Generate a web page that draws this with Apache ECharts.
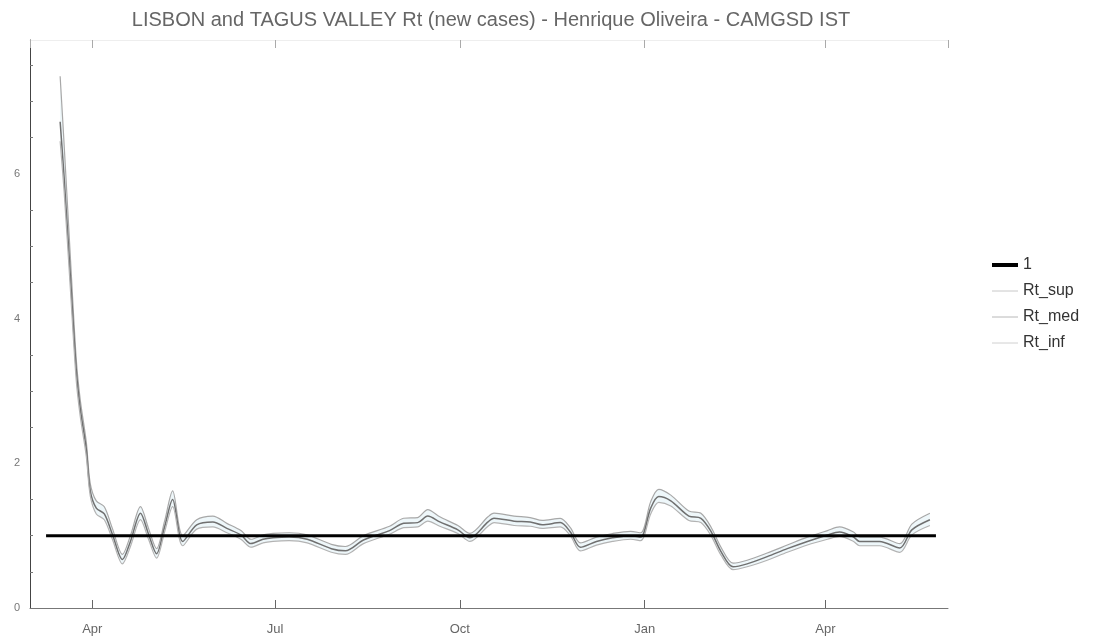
<!DOCTYPE html>
<html>
<head>
<meta charset="utf-8">
<script src="https://cdn.jsdelivr.net/npm/echarts@6/dist/echarts.min.js"></script>
<style>
  html, body { margin: 0; padding: 0; background: #fff; }
  #chart { width: 1100px; height: 639px; }
</style>
</head>
<body>
<div id="chart"></div>
<script>
// Daily-estimate dates (sampled) and Rt bounds / median for Lisbon and Tagus Valley
const dates = [
  '2020-03-16','2020-03-18','2020-03-21','2020-03-24','2020-03-26','2020-03-29','2020-03-31',
  '2020-04-03','2020-04-07','2020-04-11','2020-04-16','2020-04-20','2020-04-25','2020-04-29',
  '2020-05-03','2020-05-07','2020-05-11','2020-05-16','2020-05-23','2020-05-31','2020-06-07',
  '2020-06-14','2020-06-19','2020-06-25','2020-06-30','2020-07-08','2020-07-17','2020-07-29',
  '2020-08-05','2020-08-14','2020-08-27','2020-09-03','2020-09-10','2020-09-15','2020-09-21',
  '2020-09-30','2020-10-06','2020-10-15','2020-10-18','2020-10-28','2020-11-05','2020-11-11',
  '2020-11-20','2020-11-25','2020-11-30','2020-12-08','2020-12-16','2020-12-25','2020-12-30',
  '2021-01-04','2021-01-08','2021-01-14','2021-01-23','2021-01-29','2021-02-03','2021-02-08',
  '2021-02-14','2021-02-21','2021-03-03','2021-03-13','2021-03-23','2021-04-02','2021-04-08',
  '2021-04-15','2021-04-18','2021-04-28','2021-05-08','2021-05-14','2021-05-23'
];
const rtMed = [
  6.72, 5.95, 4.63, 3.30, 2.76, 2.20, 1.62,
  1.38, 1.30, 1.02, 0.67, 0.92, 1.31, 1.02,
  0.75, 1.12, 1.50, 0.92, 1.15, 1.19, 1.10,
  1.01, 0.89, 0.95, 0.97, 0.98, 0.95, 0.82,
  0.79, 0.94, 1.07, 1.17, 1.18, 1.27, 1.19,
  1.08, 0.97, 1.19, 1.24, 1.20, 1.19, 1.15,
  1.18, 1.05, 0.84, 0.92, 0.97, 1.00, 0.98,
  1.38, 1.54, 1.48, 1.27, 1.24, 1.06, 0.78,
  0.57, 0.61, 0.71, 0.82, 0.92, 1.01, 1.05,
  0.98, 0.92, 0.92, 0.83, 1.08, 1.22
];
const rtSup = [
  7.35, 6.40, 4.90, 3.45, 2.88, 2.30, 1.72,
  1.48, 1.40, 1.10, 0.74, 1.00, 1.40, 1.10,
  0.82, 1.20, 1.62, 1.00, 1.22, 1.27, 1.17,
  1.07, 0.95, 1.01, 1.03, 1.04, 1.01, 0.88,
  0.85, 1.00, 1.13, 1.24, 1.25, 1.36, 1.26,
  1.14, 1.03, 1.26, 1.31, 1.27, 1.25, 1.21,
  1.24, 1.11, 0.90, 0.98, 1.03, 1.06, 1.04,
  1.47, 1.64, 1.56, 1.34, 1.31, 1.12, 0.84,
  0.62, 0.66, 0.76, 0.87, 0.98, 1.07, 1.12,
  1.05, 0.98, 0.98, 0.89, 1.16, 1.31
];
const rtInf = [
  6.45, 5.75, 4.45, 3.15, 2.65, 2.10, 1.55,
  1.30, 1.22, 0.95, 0.61, 0.85, 1.22, 0.95,
  0.69, 1.05, 1.40, 0.86, 1.09, 1.12, 1.04,
  0.95, 0.84, 0.90, 0.92, 0.93, 0.90, 0.77,
  0.74, 0.89, 1.02, 1.11, 1.12, 1.20, 1.13,
  1.03, 0.92, 1.13, 1.18, 1.14, 1.13, 1.10,
  1.12, 1.00, 0.79, 0.87, 0.92, 0.95, 0.93,
  1.30, 1.46, 1.41, 1.21, 1.18, 1.00, 0.73,
  0.53, 0.57, 0.66, 0.77, 0.87, 0.95, 0.99,
  0.92, 0.86, 0.86, 0.77, 1.01, 1.14
];
// Reference level Rt = 1
const unitLineDates = ['2020-03-09', '2021-05-26'];
const unitLineValue = 1;
const monthNames = ['Jan','Feb','Mar','Apr','May','Jun','Jul','Aug','Sep','Oct','Nov','Dec'];
const yTickLabels = [0, 2, 4, 6];

const pairs = arr => dates.map((d, i) => [d, arr[i]]);
const bandWidth = dates.map((d, i) => [d, +(rtSup[i] - rtInf[i]).toFixed(3)]);

const chart = echarts.init(document.getElementById('chart'), null, { renderer: 'canvas' });
chart.setOption({
  useUTC: true,
  animation: false,
  backgroundColor: '#fff',
  title: {
    text: 'LISBON and TAGUS VALLEY Rt (new cases) - Henrique Oliveira - CAMGSD IST',
    left: 486, top: 5, textAlign: 'center',
    textStyle: { fontFamily: 'Liberation Sans', fontSize: 20, fontWeight: 'normal', color: '#666' }
  },
  legend: {
    orient: 'vertical', left: 985, top: 252,
    itemWidth: 26, itemHeight: 14, itemGap: 10,
    itemStyle: { opacity: 0 },
    data: [
      { name: '1', lineStyle: { width: 4, color: '#000' } },
      { name: 'Rt_sup', lineStyle: { width: 1, color: '#c8c8c8' } },
      { name: 'Rt_med', lineStyle: { width: 1, color: '#b8b8b8' } },
      { name: 'Rt_inf', lineStyle: { width: 1, color: '#d0d0d0' } }
    ],
    textStyle: { fontFamily: 'Liberation Sans', fontSize: 16, color: '#333' }
  },
  grid: { left: 30, right: 152, top: 40, bottom: 31 },
  xAxis: [{
    type: 'time',
    min: '2020-03-01', max: '2021-06-01',
    splitNumber: 5,
    axisLine: { lineStyle: { color: '#777', width: 1 } },
    axisTick: { inside: true, length: 8, lineStyle: { color: '#666' } },
    splitLine: { show: false },
    axisLabel: {
      fontFamily: 'Liberation Sans', fontSize: 13, color: '#666', margin: 15,
      formatter: v => monthNames[new Date(v).getUTCMonth()]
    }
  }, {
    type: 'time', position: 'top',
    min: '2020-03-01', max: '2021-06-01',
    splitNumber: 5,
    axisLine: { show: true, lineStyle: { color: '#eee' } },
    axisTick: { inside: true, length: 8, lineStyle: { color: '#aaa' } },
    axisLabel: { show: false },
    splitLine: { show: false }
  }],
  yAxis: {
    type: 'value', min: 0, max: 7.85, interval: 2,
    axisLine: { show: true, lineStyle: { color: '#444', width: 1 } },
    axisTick: { inside: true, length: 6, lineStyle: { color: '#555' } },
    minorTick: { show: true, splitNumber: 4, length: 3, lineStyle: { color: '#777' } },
    splitLine: { show: false },
    axisLabel: {
      fontFamily: 'Liberation Sans', fontSize: 11, color: '#777', margin: 10,
      formatter: v => (yTickLabels.indexOf(v) >= 0 ? String(v) : '')
    }
  },
  series: [
    {
      name: 'band_base', type: 'line', stack: 'band', data: pairs(rtInf),
      smooth: 0.3, symbol: 'none', lineStyle: { opacity: 0 }, silent: true
    },
    {
      name: 'band', type: 'line', stack: 'band', data: bandWidth,
      smooth: 0.3, symbol: 'none', lineStyle: { opacity: 0 }, silent: true,
      areaStyle: { color: 'rgba(175,215,230,0.3)' }
    },
    {
      name: '1', type: 'line', data: unitLineDates.map(d => [d, unitLineValue]),
      symbol: 'none', z: 10, color: '#000', lineStyle: { color: '#000', width: 3 }
    },
    {
      name: 'Rt_sup', type: 'line', data: pairs(rtSup), smooth: 0.3, symbol: 'none',
      color: '#bbb', lineStyle: { color: '#a8a8a8', width: 1.2 }
    },
    {
      name: 'Rt_med', type: 'line', data: pairs(rtMed), smooth: 0.3, symbol: 'none',
      color: '#bbb', lineStyle: { color: '#707070', width: 1.5 }
    },
    {
      name: 'Rt_inf', type: 'line', data: pairs(rtInf), smooth: 0.3, symbol: 'none',
      color: '#ccc', lineStyle: { color: '#b3b3b3', width: 1.2 }
    }
  ]
});
</script>
</body>
</html>
